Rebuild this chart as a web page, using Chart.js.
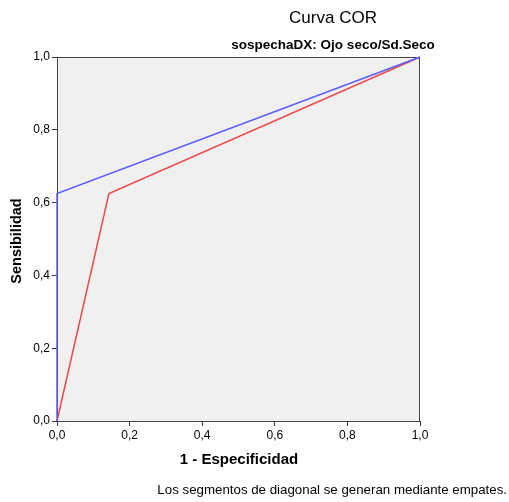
<!DOCTYPE html>
<html>
<head>
<meta charset="utf-8">
<script src="https://cdn.jsdelivr.net/npm/chart.js@4"></script>
<style>
  html, body { margin: 0; padding: 0; background: #fff; }
  #wrap { width: 509px; height: 502px; }
</style>
</head>
<body>
<div id="wrap"><canvas id="roc" width="509" height="502"></canvas></div>
<script>
// datos de la curva COR
const fpr = [0, 0.143, 1];          // 1 - Especificidad
const sensRed = [0, 0.625, 1];      // sensibilidad (rojo)
const fprBlue = [0, 0, 1];
const sensBlue = [0, 0.625, 1];     // sensibilidad (azul)
const tickVals = [0, 0.2, 0.4, 0.6, 0.8, 1.0];

const toPts = (xs, ys) => xs.map((x, i) => ({ x: x, y: ys[i] }));
const fmt = v => v.toFixed(1).replace('.', ',');

// fondo gris y marco del área de trazado, textos
const decor = {
    id: 'decor',
    beforeDatasetsDraw(chart) {
        const { ctx, chartArea: a } = chart;
        ctx.save();
        ctx.fillStyle = '#f0f0f0';
        ctx.fillRect(a.left + 1, a.top, a.right - a.left - 1, a.bottom - a.top);
        ctx.strokeStyle = '#444';
        ctx.lineWidth = 1;
        ctx.strokeRect(a.left + 0.5, a.top + 0.5, a.right - a.left - 1, a.bottom - a.top);
        ctx.restore();
    },
    afterDraw(chart) {
        const { ctx } = chart;
        ctx.save();
        ctx.fillStyle = '#000';
        ctx.textAlign = 'center';
        ctx.textBaseline = 'middle';
        ctx.font = '17px "Liberation Sans", Arial, sans-serif';
        ctx.fillText('Curva COR', 333, 18);
        ctx.font = 'bold 13.5px "Liberation Sans", Arial, sans-serif';
        ctx.fillText('sospechaDX: Ojo seco/Sd.Seco', 333, 45);
        ctx.font = 'bold 15px "Liberation Sans", Arial, sans-serif';
        ctx.fillText('1 - Especificidad', 239, 460);
        ctx.save();
        ctx.translate(17, 241);
        ctx.rotate(-Math.PI / 2);
        ctx.font = 'bold 14.5px "Liberation Sans", Arial, sans-serif';
        ctx.fillText('Sensibilidad', 0, 0);
        ctx.restore();
        ctx.font = '13.3px "Liberation Sans", Arial, sans-serif';
        ctx.textAlign = 'right';
        ctx.fillText('Los segmentos de diagonal se generan mediante empates.', 507, 490);
        ctx.restore();
    }
};

const tickCfg = {
    color: '#000',
    font: { family: '"Liberation Sans", Arial, sans-serif', size: 12 },
    padding: 2,
    autoSkip: false,
    maxRotation: 0,
    callback: v => fmt(v)
};

new Chart(document.getElementById('roc').getContext('2d'), {
    type: 'scatter',
    data: {
        datasets: [
            {
                label: 'azul',
                data: toPts(fprBlue, sensBlue),
                showLine: true,
                borderColor: '#5c5cff',
                borderWidth: 1.5,
                pointRadius: 0,
                tension: 0,
                clip: false
            },
            {
                label: 'rojo',
                data: toPts(fpr, sensRed),
                showLine: true,
                borderColor: '#f04848',
                borderWidth: 1.5,
                pointRadius: 0,
                tension: 0,
                clip: false
            }
        ]
    },
    options: {
        responsive: false,
        animation: false,
        layout: { padding: { left: 0, top: 57, right: 89, bottom: 0 } },
        plugins: { legend: { display: false }, tooltip: { enabled: false } },
        scales: {
            x: {
                type: 'linear', min: 0, max: 1,
                afterBuildTicks: s => { s.ticks = tickVals.map(v => ({ value: v })); },
                afterFit: s => { s.height = 81; },
                grid: { drawOnChartArea: false, drawTicks: true, tickLength: 5, tickColor: '#333' },
                border: { color: '#333', width: 1 },
                ticks: tickCfg
            },
            y: {
                type: 'linear', min: 0, max: 1,
                afterBuildTicks: s => { s.ticks = tickVals.map(v => ({ value: v })); },
                afterFit: s => { s.width = 57; },
                grid: { drawOnChartArea: false, drawTicks: true, tickLength: 5, tickColor: '#333' },
                border: { color: '#333', width: 1 },
                ticks: tickCfg
            }
        }
    },
    plugins: [decor]
});
</script>
</body>
</html>
